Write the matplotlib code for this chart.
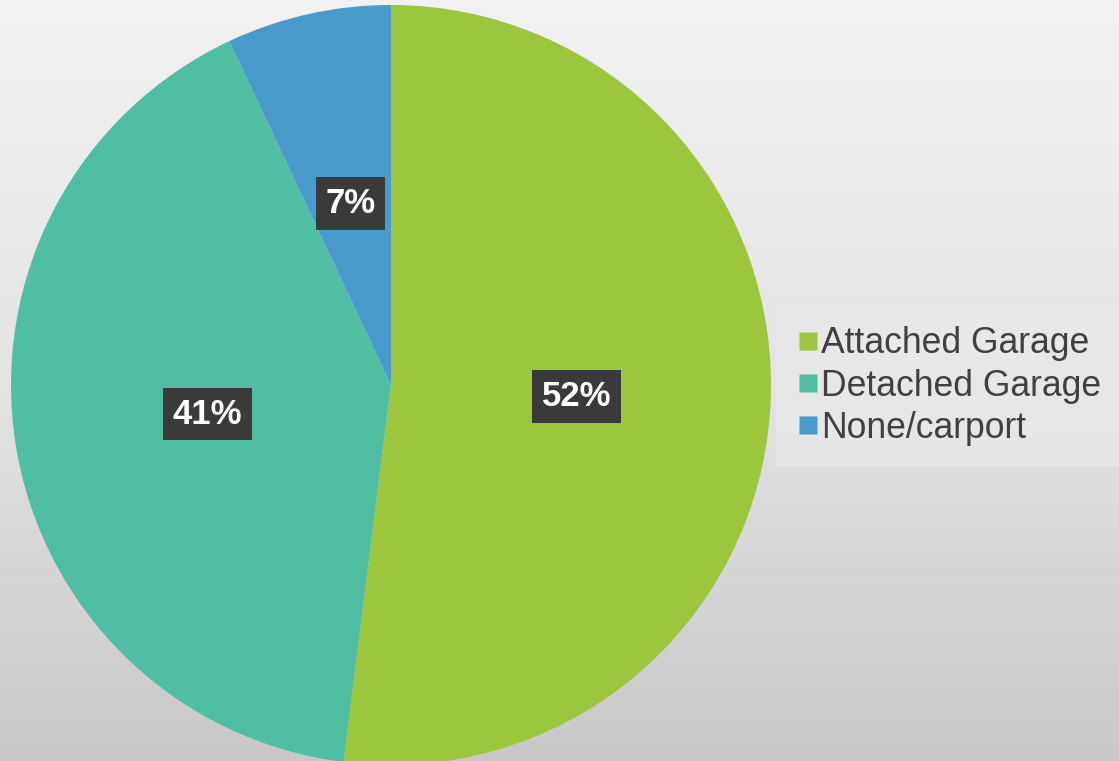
import numpy as np
import matplotlib.pyplot as plt
from matplotlib.lines import Line2D

# datos del grafico
categorias = ["Attached Garage", "Detached Garage", "None/carport"]
porcentajes = [52, 41, 7]
colores = ["#9dc63f", "#4fbea3", "#4a9bcc"]

plt.rcParams['font.family'] = ['Liberation Sans', 'DejaVu Sans']

fig = plt.figure(figsize=(11.19, 7.61), dpi=100)

# fondo con degradado gris (claro arriba, mas oscuro abajo)
fondo = fig.add_axes([0, 0, 1, 1])
grad = np.linspace(0, 1, 256).reshape(-1, 1)
fondo.imshow(grad, aspect='auto', cmap=plt.matplotlib.colors.LinearSegmentedColormap.from_list(
    "g", ["#f2f2f2", "#e4e4e4", "#c8c8c8"]), extent=[0, 1, 0, 1])
fondo.axis('off')

# ejes de la tarta: centro (391, 385) px y radio 380 px
W, H = 1119, 761
ax = fig.add_axes([11 / W, (H - 385 - 380) / H, 760 / W, 760 / H])
ax.set_facecolor('none')

wedges, textos, autotextos = ax.pie(
    porcentajes, colors=colores, startangle=90, counterclock=False,
    autopct='%d%%', pctdistance=0.49, radius=1,
    textprops=dict(color='white', fontsize=25, fontweight='bold'))
for t in autotextos:
    t.set_bbox(dict(boxstyle='square,pad=0.28', facecolor='#3a3a3a', edgecolor='none'))
ax.set_xlim(-1, 1)
ax.set_ylim(-1, 1)
ax.set_aspect('equal')

handles = [Line2D([], [], marker='s', linestyle='none', markersize=12.5,
                  markerfacecolor=c, markeredgecolor='none') for c in colores]
leg = fig.legend(handles, categorias, loc='center left',
                 bbox_to_anchor=(787 / W, 1 - 386 / H), fontsize=25.6,
                 frameon=True, handlelength=0.6, handletextpad=0.05,
                 labelspacing=0.2, borderpad=0.3, borderaxespad=0)
leg.get_frame().set_facecolor('#e9e9e9')
leg.get_frame().set_edgecolor('none')
leg.get_frame().set_boxstyle('square')
for t in leg.get_texts():
    t.set_color('#404040')

plt.savefig("out.png", dpi=100)
